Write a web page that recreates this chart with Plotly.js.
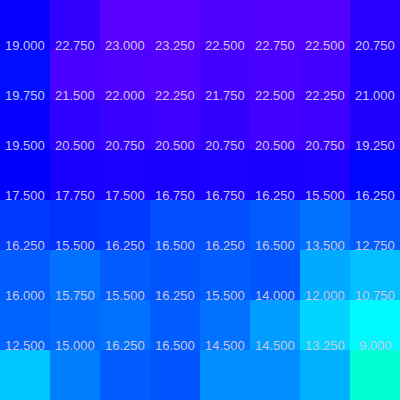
<!DOCTYPE html>
<html>
<head>
<meta charset="utf-8">
<script src="https://cdn.plot.ly/plotly-3.0.1.min.js"></script>
<style>html,body{margin:0;padding:0;background:#fff;}#chart{width:400px;height:400px;}</style>
</head>
<body>
<div id="chart"></div>
<script>
// Columns and rows (row 0 at top)
const cols = [0, 1, 2, 3, 4, 5, 6, 7];
const rows = [0, 1, 2, 3, 4, 5, 6, 7];

// Cell values, one array per row (top to bottom)
const row0 = [19.75, 21.75, 23.5, 23.5, 23.0, 23.25, 23.25, 21.25];
const row1 = [19.0, 22.75, 23.0, 23.25, 22.5, 22.75, 22.5, 20.75];
const row2 = [19.75, 21.5, 22.0, 22.25, 21.75, 22.5, 22.25, 21.0];
const row3 = [19.5, 20.5, 20.75, 20.5, 20.75, 20.5, 20.75, 19.25];
const row4 = [17.5, 17.75, 17.5, 16.75, 16.75, 16.25, 15.5, 16.25];
const row5 = [16.25, 15.5, 16.25, 16.5, 16.25, 16.5, 13.5, 12.75];
const row6 = [16.0, 15.75, 15.5, 16.25, 15.5, 14.0, 12.0, 10.75];
const row7 = [12.5, 15.0, 16.25, 16.5, 14.5, 14.5, 13.25, 9.0];
const z = [row0, row1, row2, row3, row4, row5, row6, row7];

// Hue-based colour scale (cyan-green -> blue -> violet)
function hsv(h) {
  h = ((h % 360) + 360) % 360;
  const c = 255, x = c * (1 - Math.abs((h / 60) % 2 - 1));
  let r, g, b;
  if (h < 60) [r, g, b] = [c, x, 0];
  else if (h < 120) [r, g, b] = [x, c, 0];
  else if (h < 180) [r, g, b] = [0, c, x];
  else if (h < 240) [r, g, b] = [0, x, c];
  else if (h < 300) [r, g, b] = [x, 0, c];
  else [r, g, b] = [c, 0, x];
  return 'rgb(' + Math.round(r) + ',' + Math.round(g) + ',' + Math.round(b) + ')';
}
const zLo = 9, zMid = 19.5, zHi = 23.5;
const hueLo = 170, hueMid = 240, hueHi = 261;
function hueAt(v) {
  if (v <= zMid) return hueLo + (hueMid - hueLo) * (v - zLo) / (zMid - zLo);
  return hueMid + (hueHi - hueMid) * (v - zMid) / (zHi - zMid);
}
const colorscale = [];
for (let i = 0; i <= 40; i++) {
  const t = i / 40;
  colorscale.push([t, hsv(hueAt(zLo + (zHi - zLo) * t))]);
}

const trace = {
  type: 'heatmap',
  x: cols,
  y: rows,
  z: z,
  zmin: zLo,
  zmax: zHi,
  colorscale: colorscale,
  showscale: false,
  hoverinfo: 'none'
};

const annotations = [];
rows.forEach((r, ri) => {
  cols.forEach((c, ci) => {
    annotations.push({
      x: c, y: r, xref: 'x', yref: 'y',
      text: z[ri][ci].toFixed(3),
      showarrow: false,
      yshift: 30,
      font: {family: 'Liberation Sans, Arial, sans-serif', size: 13, color: 'rgb(200,200,230)'}
    });
  });
});

const layout = {
  width: 400, height: 400,
  margin: {l: 0, r: 0, t: 0, b: 0, pad: 0},
  paper_bgcolor: '#fff', plot_bgcolor: '#fff',
  xaxis: {visible: false, range: [-0.5, 7.5], fixedrange: true},
  yaxis: {visible: false, range: [7.5, -0.5], fixedrange: true},
  annotations: annotations,
  showlegend: false
};

Plotly.newPlot('chart', [trace], layout, {staticPlot: true, displayModeBar: false});
</script>
</body>
</html>
